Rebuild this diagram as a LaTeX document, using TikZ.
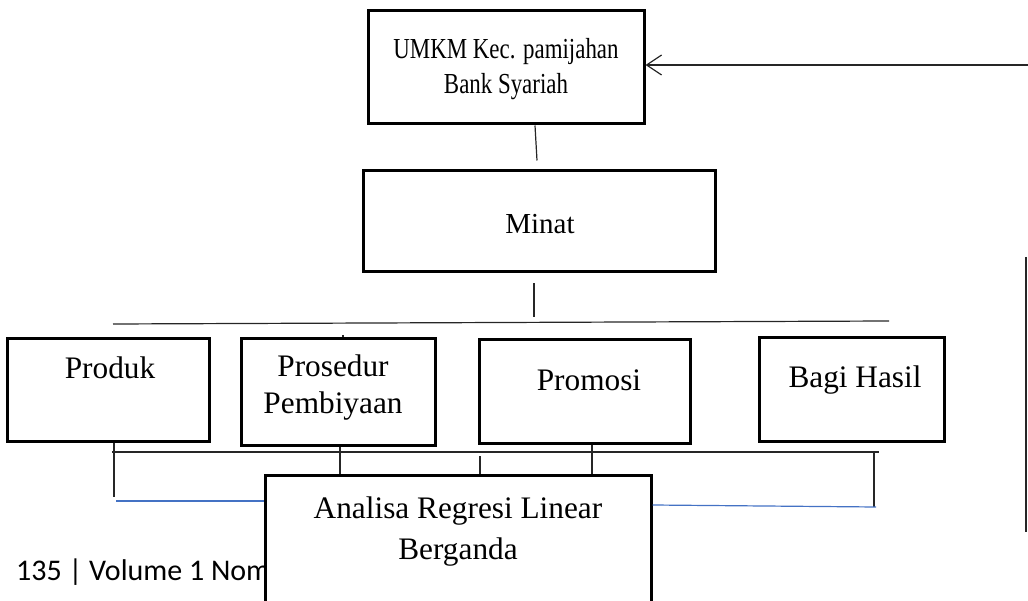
\documentclass[tikz,border=0pt]{standalone}
\usepackage{fontspec}
\setmainfont{Liberation Serif}
\newfontfamily\footfont{Carlito}
\usetikzlibrary{arrows.meta,positioning,calc}
\begin{document}
\begin{tikzpicture}[x=1pt,y=-1pt]
  % Define styles
  \tikzstyle{kotak} = [rectangle, draw, line width=3pt, inner sep=0pt, fill=white]
  \tikzstyle{teks} = [font=\fontsize{31.3}{37}\selectfont, align=center, inner sep=0pt]
  \tikzstyle{teksatas} = [font=\fontsize{29}{35}\selectfont, align=center, inner sep=0pt]
  \tikzstyle{garis} = [line width=1.2pt, black!85]
  \tikzstyle{biru} = [line width=1.2pt, color={rgb,255:red,68;green,114;blue,196}]
  \useasboundingbox (0,0) rectangle (1028,601);

  % Page footer (partly hidden by the last box)
  \node [anchor=base west, inner sep=0pt, font=\footfont\fontsize{30}{30}\selectfont] (kaki) at (16,580) {135 | Volume 1 Nom};

  % Boxes
  \node [kotak, minimum width=276pt, minimum height=113pt] (umkm) at (506,67.5) {};
  \node [kotak, minimum width=352pt, minimum height=101pt] (minat) at (539,221.5) {};
  \node [kotak, minimum width=202pt, minimum height=102pt] (produk) at (108,390) {};
  \node [kotak, minimum width=194pt, minimum height=106pt] (prosedur) at (338,392) {};
  \node [kotak, minimum width=211pt, minimum height=103pt] (promosi) at (584.5,391.5) {};
  \node [kotak, minimum width=185pt, minimum height=103pt] (bagi) at (851.5,389.5) {};
  \node [kotak, minimum width=386pt, minimum height=170pt] (analisa) at (458,560) {};

  % Box texts
  \node [teksatas, xscale=0.79] (umkmtxt) at (506,69.5) {UMKM Kec. pamijahan\\Bank Syariah};
  \node [teksatas] (minattxt) at (540,224) {Minat};
  \node [teks] (produktxt) at (110,368) {Produk};
  \node [teks] (prosedurtxt) at (333,387.5) {Prosedur\\Pembiyaan};
  \node [teks] (promositxt) at (589,380) {Promosi};
  \node [teks] (bagitxt) at (855,380) {Bagi Hasil};
  \node [teks, font=\fontsize{31.3}{41}\selectfont] (analisatxt) at (458,532) {Analisa Regresi Linear\\Berganda};

  % Free ends of the connectors
  \coordinate (balik) at (1028,65);
  \coordinate (kanan) at (1026,257);
  \coordinate (kananb) at (1026,532);
  \coordinate (busa) at (113,324);
  \coordinate (busb) at (889,321);
  \coordinate (busc) at (112,452);
  \coordinate (busd) at (879,452);

  % Connectors
  \draw [garis] ($(umkm.south)+(29,0)$) -- ($(minat.north)+(-2,-9)$);
  \draw [garis] ($(minat.south)+(-5,10)$) -- ($(minat.south)+(-5,44)$);
  \draw [garis] (busa) -- (busb);
  \draw [garis] (343,335) -- (prosedur.north -| 343,0);
  \draw [garis] (busc) -- (busd);
  \draw [garis] (produk.south -| 114,0) -- (114,497);
  \draw [garis] (prosedur.south -| 340,0) -- (analisa.north -| 340,0);
  \draw [garis] (480,456) -- (analisa.north -| 480,0);
  \draw [garis] (promosi.south -| 592,0) -- (analisa.north -| 592,0);
  \draw [garis] (busd -| 874,0) -- (874,507);
  \draw [biru] (116,501) -- (analisa.west |- 0,501);
  \draw [biru] (analisa.east |- 0,505) -- (876,507);
  \draw [garis, -{Straight Barb[length=15pt, width=20pt, line width=1.2pt]}] (balik) -- (umkm.east |- balik);
  \draw [garis] (kanan) -- (kananb);
\end{tikzpicture}
\end{document}
